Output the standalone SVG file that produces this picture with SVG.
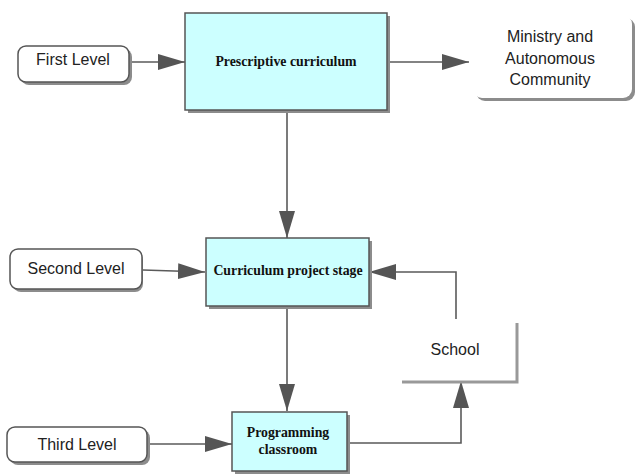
<svg xmlns="http://www.w3.org/2000/svg" width="635" height="474" viewBox="0 0 635 474">
<defs>
<style>
.box{fill:#ccffff;stroke:#555;stroke-width:1.5}
.shadow{fill:#8c8c8c}
.rnd{fill:#fff;stroke:#555;stroke-width:1.5}
.lbl{font-family:"Liberation Sans",Arial,sans-serif;font-size:16px;fill:#222;text-anchor:middle}
.blbl{font-family:"Liberation Serif","Times New Roman",serif;font-size:13.8px;font-weight:bold;fill:#111;text-anchor:middle}
.conn{fill:none;stroke:#5a5a5a;stroke-width:1.6}
.school{fill:none;stroke:#999;stroke-width:3}
</style>
<marker id="arr" markerWidth="27" markerHeight="16" refX="27" refY="8" orient="auto" markerUnits="userSpaceOnUse">
<path d="M0,0 L27,8 L0,16 Z" fill="#555"/>
</marker>
</defs>
<rect width="635" height="474" fill="#fff"/>

<g id="connectors">
<path class="conn" d="M130,62 H185" marker-end="url(#arr)"/>
<path class="conn" d="M388,62 H469" marker-end="url(#arr)"/>
<path class="conn" d="M287,111 V238" marker-end="url(#arr)"/>
<path class="conn" d="M143,270 L205,272" marker-end="url(#arr)"/>
<path class="conn" d="M456,319 V272 H369" marker-end="url(#arr)"/>
<path class="conn" d="M287,307 V411" marker-end="url(#arr)"/>
<path class="conn" d="M147,444 H232" marker-end="url(#arr)"/>
<path class="conn" d="M348,443 H461 V381" marker-end="url(#arr)"/>
</g>

<g id="first-level">
<rect class="shadow" x="21" y="49" width="111" height="36" rx="8"/>
<rect class="rnd" x="18" y="46" width="111" height="36" rx="8"/>
<text class="lbl" x="73" y="65">First Level</text>
</g>

<g id="prescriptive">
<rect class="shadow" x="188" y="16" width="202" height="97"/>
<rect class="box" x="185" y="13" width="202" height="97"/>
<text class="blbl" x="286" y="66">Prescriptive curriculum</text>
</g>

<g id="ministry">
<rect class="shadow" x="476" y="18" width="159" height="83" rx="9"/>
<rect x="473" y="15" width="159" height="83" rx="9" fill="#fff"/>
<text class="lbl" x="550" y="42">Ministry and</text>
<text class="lbl" x="550" y="64">Autonomous</text>
<text class="lbl" x="550" y="85">Community</text>
</g>

<g id="second-level">
<rect class="shadow" x="13" y="252" width="130" height="40" rx="8"/>
<rect class="rnd" x="10" y="249" width="132" height="40" rx="8"/>
<text class="lbl" x="76" y="274">Second Level</text>
</g>

<g id="curriculum-stage">
<rect class="shadow" x="209" y="241" width="163" height="68"/>
<rect class="box" x="206" y="238" width="163" height="68"/>
<text class="blbl" x="288" y="275">Curriculum project stage</text>
</g>

<g id="school">
<path class="school" d="M517,323 V382 H402"/>
<text class="lbl" x="455" y="355">School</text>
</g>

<g id="third-level">
<rect class="shadow" x="10" y="430" width="140" height="35" rx="8"/>
<rect class="rnd" x="7" y="427" width="140" height="35" rx="8"/>
<text class="lbl" x="77" y="450">Third Level</text>
</g>

<g id="programming">
<rect class="shadow" x="235" y="415" width="115" height="59"/>
<rect class="box" x="232" y="412" width="115" height="59"/>
<text class="blbl" x="288" y="437">Programming</text>
<text class="blbl" x="288" y="454">classroom</text>
</g>
</svg>
